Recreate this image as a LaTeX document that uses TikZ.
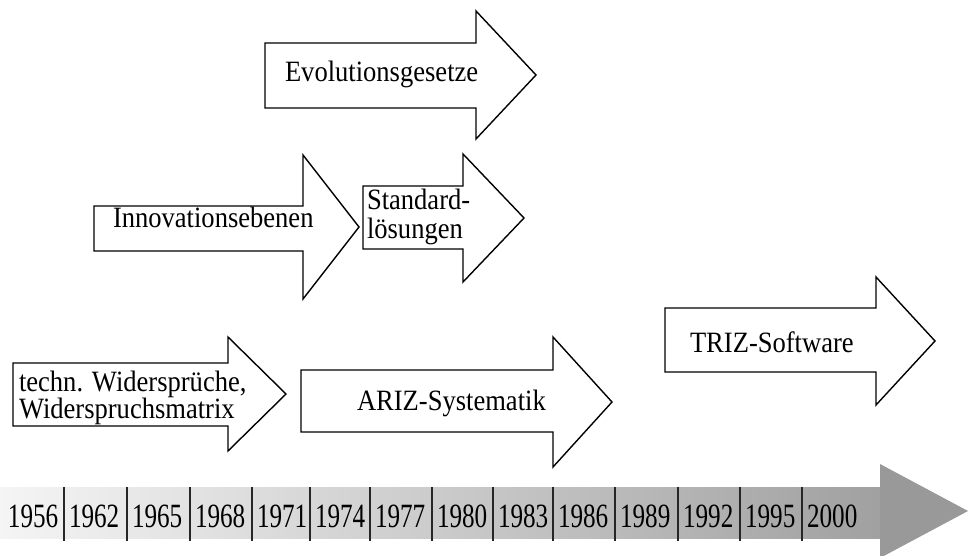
\documentclass[tikz,border=0pt]{standalone}
\usepackage{fontspec}
\setmainfont[FakeStretch=0.9]{Liberation Serif}
\newfontfamily\yearfont[FakeStretch=0.74]{Liberation Serif}
\newcommand\tightlines{\setlength{\lineskiplimit}{-20pt}}
\begin{document}
\begin{tikzpicture}[x=1pt,y=-1pt,
  arrowbox/.style={draw=black, line width=1.4pt, line join=miter, fill=white},
  lbl/.style={inner sep=0pt, outer sep=0pt, align=left, anchor=base west, font={\fontsize{29.5}{27}\selectfont\tightlines}},
  lbltwo/.style={inner sep=0pt, outer sep=0pt, align=left, anchor=base west, font={\fontsize{29.5}{29}\selectfont\tightlines}},
  yearlbl/.style={inner sep=0pt, outer sep=0pt, anchor=base west, font=\yearfont\fontsize{34}{34}\selectfont},
  divider/.style={draw=black!85, line width=1.2pt}]
\useasboundingbox (0,0) rectangle (971,556);
\newcommand\blockarrow[7]{\draw[arrowbox] (#1,#2) -- (#4,#2) -- (#4,#5) -- (#6,#7) -- (#4,{2*#7-#5}) -- (#4,#3) -- (#1,#3) -- cycle;}
% timeline
\shade[left color=black!4, right color=black!37] (0,487) rectangle (880,538);
\fill[black!40] (880,464) -- (968,511) -- (880,558) -- cycle;
\foreach \xx in {64,127,190,252,310,370,432,493,553,615,678,740,802}
  \draw[divider] (\xx,487) -- (\xx,541);
\foreach \yr/\xx in {1956/8,1962/69,1965/132,1968/195,1971/257,1974/315,1977/375,1980/437,1983/498,1986/558,1989/620,1992/683,1995/745,2000/807}
  \node[yearlbl] (y\yr) at (\xx,527) {\yr};
% arrows
\blockarrow{265}{43}{108}{476}{11}{536}{75}
\node[lbl] (evo) at (285,82) {Evolutionsgesetze};
\blockarrow{94}{206}{251}{303}{155}{359}{227}
\node[lbl] (innov) at (113,227) {Innovationsebenen};
\blockarrow{363}{186}{249}{463}{154}{524}{218}
\node[lbltwo] (std) at (367,238) {Standard-\\lösungen};
\blockarrow{13}{363}{426}{228}{337}{286}{394}
\node[lbl] (techn) at (19,418) {techn. Widersprüche,\\Widerspruchsmatrix};
\blockarrow{301}{370}{432}{553}{337}{612}{402}
\node[lbl] (ariz) at (357,410) {ARIZ-Systematik};
\blockarrow{665}{308}{372}{876}{277}{935}{341}
\node[lbl] (triz) at (690,352) {TRIZ-Software};
\end{tikzpicture}
\end{document}
